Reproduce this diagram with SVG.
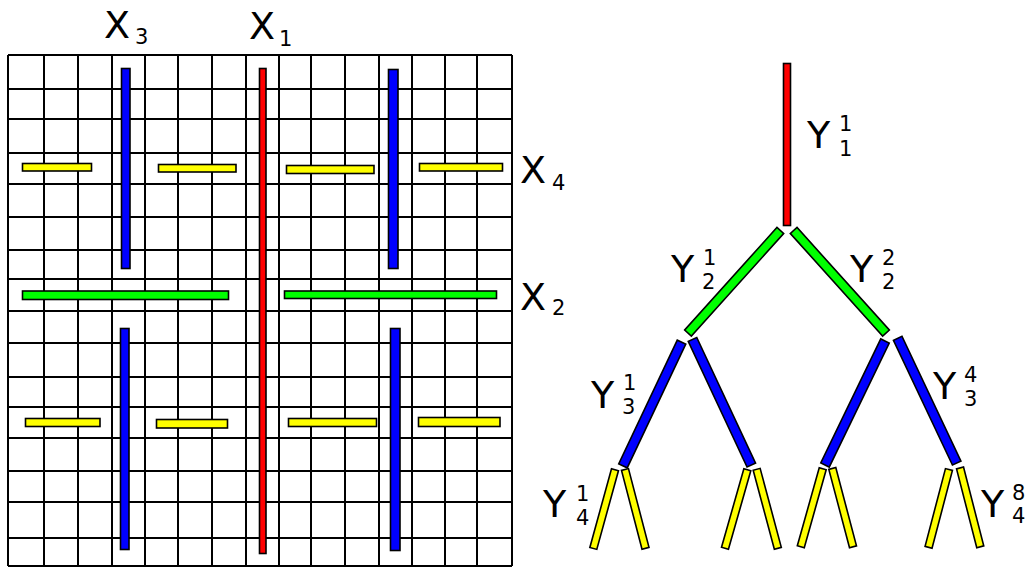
<svg xmlns="http://www.w3.org/2000/svg" width="1029" height="567" viewBox="0 0 1029 567">
<style>
.grid{stroke:#000;stroke-width:2;fill:none}
.bar{stroke:#000;stroke-width:1.6}
.r{fill:#ff0000}.b{fill:#0000ff}.g{fill:#00ff00}.y{fill:#ffff00}
.lbl{font-family:"DejaVu Sans",sans-serif;font-size:38px;fill:#000}
.idx{font-family:"DejaVu Sans",sans-serif;font-size:21px;fill:#000}
</style>
<rect width="1029" height="567" fill="#fff"/>
<g id="grid">
<path class="grid" d="M8,55V566M44,55V566M78,55V566M112,55V566M145,55V566M178,55V566M212,55V566M246,55V566M279,55V566M311,55V566M345,55V566M379,55V566M412,55V566M445,55V566M477,55V566M512,55V566
M8,55H512M8,89H512M8,119H512M8,153H512M8,184H512M8,217H512M8,250H512M8,279H512M8,311H512M8,343H512M8,377H512M8,407H512M8,438H512M8,471H512M8,502H512M8,538H512M8,566H512"/>
</g>
<g id="x1"><rect class="bar r" x="259.5" y="68.5" width="6.5" height="485"/></g>
<g id="x3">
<rect class="bar b" x="121.5" y="68.5" width="8.5" height="200"/>
<rect class="bar b" x="120.5" y="328.5" width="8.5" height="221"/>
<rect class="bar b" x="388.5" y="69.5" width="9.5" height="199"/>
<rect class="bar b" x="390.5" y="328.5" width="9.5" height="222"/>
</g>
<g id="x2">
<rect class="bar g" x="22.5" y="291" width="206" height="8.5"/>
<rect class="bar g" x="284.5" y="291" width="212" height="7.5"/>
</g>
<g id="x4">
<rect class="bar y" x="22.5" y="163.5" width="69" height="7.5"/>
<rect class="bar y" x="158.5" y="164.5" width="77.5" height="7.5"/>
<rect class="bar y" x="286.5" y="165.5" width="87.5" height="8"/>
<rect class="bar y" x="419.5" y="163.5" width="83" height="7.5"/>
<rect class="bar y" x="25.5" y="418.5" width="74.5" height="8"/>
<rect class="bar y" x="156.5" y="419.5" width="71" height="8.5"/>
<rect class="bar y" x="288.5" y="418.5" width="88" height="8"/>
<rect class="bar y" x="418.5" y="417.5" width="81.5" height="9"/>
</g>
<g id="grid-labels">
<text class="lbl" x="104" y="38">X</text><text class="idx" x="135" y="44">3</text>
<text class="lbl" x="249" y="39">X</text><text class="idx" x="279" y="46">1</text>
<text class="lbl" x="520" y="183">X</text><text class="idx" x="552" y="190">4</text>
<text class="lbl" x="520" y="310">X</text><text class="idx" x="552" y="315">2</text>
</g>
<g id="tree">
<rect class="bar r" x="783.5" y="63.5" width="7" height="162"/>
<rect class="bar g" x="-69" y="-4.5" width="138" height="9" transform="translate(734.15 281.75) rotate(132)"/>
<rect class="bar g" x="-69" y="-4.5" width="138" height="9" transform="translate(839.85 281.75) rotate(48)"/>
<rect class="bar b" x="-68.5" y="-4.7" width="137" height="9.4" transform="translate(652.25 404) rotate(115.3)"/>
<rect class="bar b" x="-69.3" y="-4.7" width="138.6" height="9.4" transform="translate(721.9 402.25) rotate(64.9)"/>
<rect class="bar b" x="-68.9" y="-4.7" width="137.8" height="9.4" transform="translate(855 403) rotate(115.8)"/>
<rect class="bar b" x="-69" y="-4.7" width="138" height="9.4" transform="translate(927.2 400.65) rotate(64.7)"/>
<rect class="bar y" x="-40.8" y="-3.6" width="81.6" height="7.2" transform="translate(604.15 509.1) rotate(105.4)"/>
<rect class="bar y" x="-40.7" y="-3.6" width="81.4" height="7.2" transform="translate(635.25 508.9) rotate(75.4)"/>
<rect class="bar y" x="-40.8" y="-3.6" width="81.6" height="7.2" transform="translate(736.15 509.05) rotate(105.9)"/>
<rect class="bar y" x="-40.9" y="-3.6" width="81.8" height="7.2" transform="translate(767.25 508.8) rotate(75)"/>
<rect class="bar y" x="-40.5" y="-3.6" width="81" height="7.2" transform="translate(811.75 507.8) rotate(105.7)"/>
<rect class="bar y" x="-40.5" y="-3.6" width="81" height="7.2" transform="translate(842.65 507.65) rotate(75.2)"/>
<rect class="bar y" x="-40.2" y="-3.6" width="80.4" height="7.2" transform="translate(938.75 508.4) rotate(104.7)"/>
<rect class="bar y" x="-40.7" y="-3.6" width="81.4" height="7.2" transform="translate(970.15 507.4) rotate(75.6)"/>
</g>
<g id="tree-labels">
<text class="lbl" x="807" y="148">Y</text><text class="idx" x="839" y="131">1</text><text class="idx" x="839" y="156">1</text>
<text class="lbl" x="671" y="282">Y</text><text class="idx" x="703" y="265">1</text><text class="idx" x="702" y="289">2</text>
<text class="lbl" x="850" y="282">Y</text><text class="idx" x="882" y="265">2</text><text class="idx" x="882" y="289">2</text>
<text class="lbl" x="591" y="408">Y</text><text class="idx" x="623" y="390">1</text><text class="idx" x="622" y="414">3</text>
<text class="lbl" x="933" y="399">Y</text><text class="idx" x="964" y="382">4</text><text class="idx" x="964" y="406">3</text>
<text class="lbl" x="543" y="517">Y</text><text class="idx" x="576" y="501">1</text><text class="idx" x="576" y="525">4</text>
<text class="lbl" x="981" y="517">Y</text><text class="idx" x="1012" y="500">8</text><text class="idx" x="1012" y="523">4</text>
</g>
</svg>
